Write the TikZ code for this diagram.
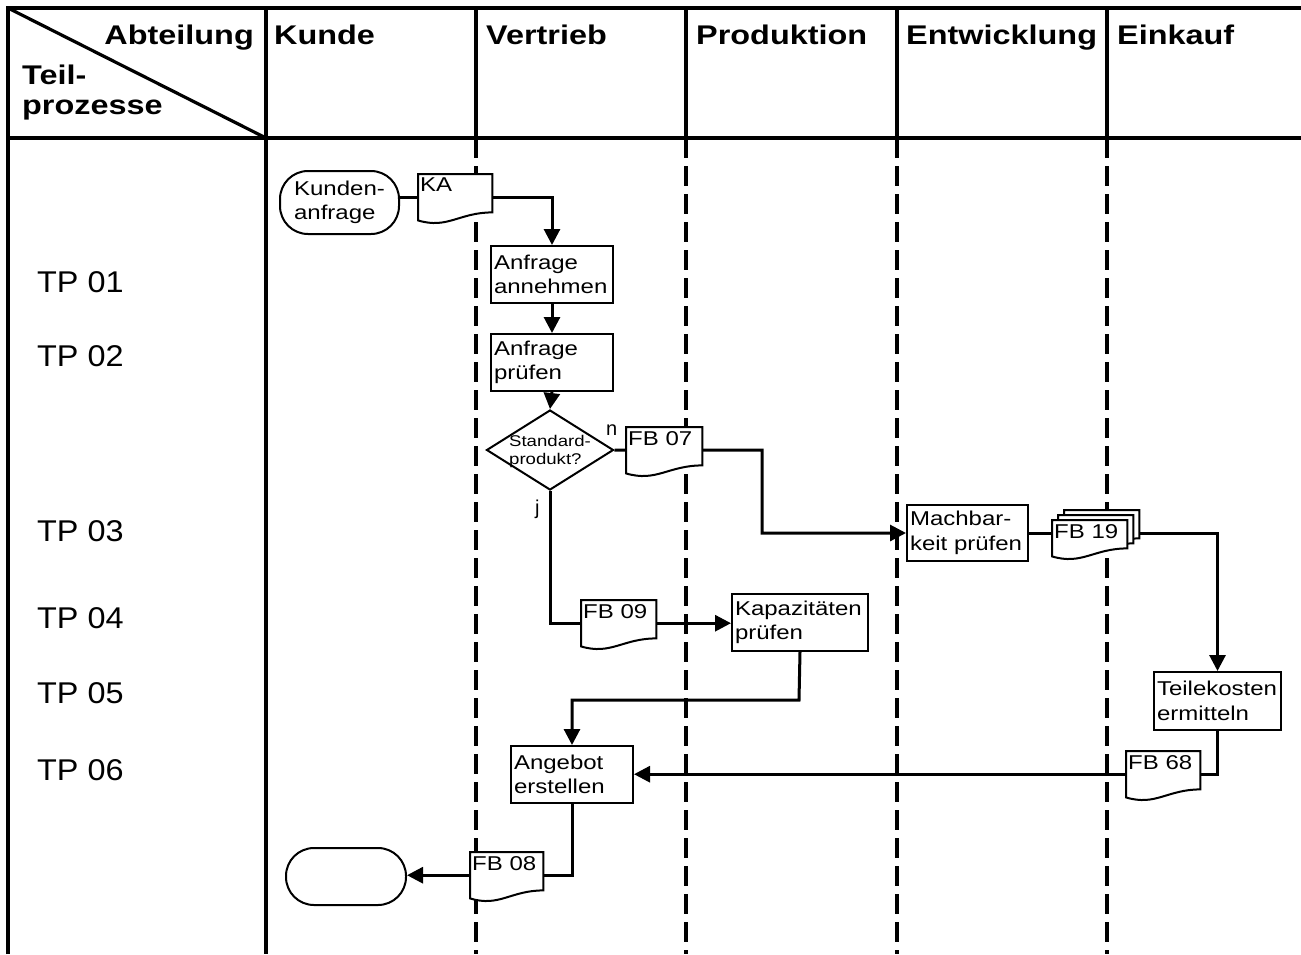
\documentclass[tikz,border=0pt]{standalone}
\usepackage{fontspec}
\setmainfont{Liberation Sans}
\newfontfamily\stretchfont[FakeStretch=1.2]{Liberation Sans}
\newfontfamily\tpfontfam[FakeStretch=1.08]{Liberation Sans}
\usetikzlibrary{shapes.geometric,arrows.meta,calc}
\newcommand\hdrfont{\stretchfont\bfseries\fontsize{27}{30}\selectfont}
\newcommand\boxfont{\stretchfont\fontsize{20}{24.5}\selectfont\hyphenpenalty=10000 }
\newcommand\smallfnt{\stretchfont\fontsize{15.5}{18}\selectfont}
\newcommand\tpfnt{\tpfontfam\fontsize{30}{36}\selectfont}
\tikzset{
  tbl/.style={line width=3.2pt},
  lane/.style={line width=3.4pt, dash pattern=on 20pt off 8pt},
  conn/.style={line width=3pt},
  arr/.style={conn, -{Triangle[length=16pt,width=16pt]}},
  shp/.style={line width=2pt},
  box/.style 2 args={shp, draw, rectangle, anchor=north west, inner xsep=3pt, inner ysep=0pt,
    align=left, font=\boxfont, text width=#1, minimum height=#2},
  term/.style={shp, draw, rectangle, rounded corners=28pt, anchor=north west, align=left,
    font=\boxfont, inner sep=0pt},
  docn/.style={rectangle, anchor=north west, inner sep=0pt, draw=none},
  doctxt/.style={anchor=north west, inner xsep=2pt, inner ysep=4pt, font=\boxfont},
  hdr/.style={font=\hdrfont, inner sep=0pt},
  tp/.style={font=\tpfnt, inner sep=0pt, anchor=base west},
  yn/.style={font=\fontsize{20}{24}\selectfont, inner sep=0pt, anchor=base west}
}
\newcommand\docshape[6]{%
  \node[docn, minimum width=#4pt, minimum height=#5pt] (#1) at (#2,#3) {};
  \draw[shp, fill=white] (#1.north west) -- (#1.north east) -- ([yshift=8pt]#1.south east)
     .. controls +({-0.45*#4},0) and +({0.4*#4},9) .. (#1.south west) -- cycle;
  \node[doctxt] (#1t) at (#1.north west) {#6};
}
\begin{document}
\begin{tikzpicture}[x=1pt,y=-1pt]
\useasboundingbox (0,0) rectangle (1301,954);
% table
\draw[tbl] (8,954) -- (8,8) -- (1301,8);
\draw[tbl] (8,138) -- (1301,138);
\draw[tbl] (8,8) -- (266,138);
\draw[tbl] (266,8) -- (266,954);
\foreach \x in {476,686,897,1107}{
  \draw[tbl] (\x,8) -- (\x,138);
  \draw[lane] (\x,138) -- (\x,954);
}
% headers
\node[hdr, anchor=base east] (habt) at (254,44) {Abteilung};
\node[hdr, anchor=base west] (hteil) at (22,84) {Teil-};
\node[hdr, anchor=base west] (hproz) at (22,114) {prozesse};
\node[hdr, anchor=base west] (hku) at (274,44) {Kunde};
\node[hdr, anchor=base west] (hve) at (486,44) {Vertrieb};
\node[hdr, anchor=base west] (hpr) at (696,44) {Produktion};
\node[hdr, anchor=base west] (hen) at (906,44) {Entwicklung};
\node[hdr, anchor=base west] (hei) at (1117,44) {Einkauf};
% TP labels
\node[tp] (tp1) at (37,292) {TP 01};
\node[tp] (tp2) at (37,366) {TP 02};
\node[tp] (tp3) at (37,541) {TP 03};
\node[tp] (tp4) at (37,628) {TP 04};
\node[tp] (tp5) at (37,703) {TP 05};
\node[tp] (tp6) at (37,780) {TP 06};
% shapes
\node[term, minimum width=119pt, minimum height=63pt] (Kst) at (279,170) {Kunden-\\anfrage};
\node[term, minimum width=120pt, minimum height=57pt] (End) at (285,847) {};
\docshape{KA}{418}{174}{74}{46}{KA}
\node[box={116pt}{57pt}] (A1) at (490,245) {Anfrage\\annehmen};
\node[box={116pt}{57pt}] (A2) at (490,333) {Anfrage\\prüfen};
\node[shp, draw, diamond, minimum width=127pt, minimum height=80pt, inner sep=0pt] (D) at (550,450) {};
\node[font=\smallfnt, align=left, inner sep=0pt] (Dt) at (550,451) {Standard-\\produkt?};
\node[yn] (nlab) at (606,435) {n};
\node[yn] (jlab) at (535,514) {j};
\docshape{FB07}{626}{427}{76}{46}{FB 07}
\docshape{FB09}{581}{600}{75}{46}{FB 09}
\node[box={130pt}{57pt}] (Kap) at (731,593) {Kapazitäten\\prüfen};
\node[box={115pt}{56pt}] (Mach) at (906,504) {Machbar-\\keit prüfen};
\docshape{FB19c}{1064}{510}{75}{36}{}
\docshape{FB19b}{1058}{515}{75}{36}{}
\docshape{FB19a}{1052}{520}{75}{36}{FB 19}
\node[box={121pt}{58pt}] (Teile) at (1153,671) {Teilekosten\\ermitteln};
\docshape{FB68}{1126}{751}{74}{46}{FB 68}
\node[box={116pt}{57pt}] (Ang) at (510,745) {Angebot\\erstellen};
\docshape{FB08}{470}{852}{73}{46}{FB 08}
% connectors
\coordinate (m1) at (762,450);
\coordinate (m2) at (799,700);
\draw[conn] (KA.west -| Kst.east) -- (KA.west);
\draw[arr] (KA.east) -| (A1.north);
\draw[arr] (A1.south) -- (A2.north);
\draw[arr] (A2.south) -- (D.north);
\draw[conn] (D.east) -- (FB07.west);
\draw[arr] (FB07.east) -- (m1) |- (Mach.west);
\draw[conn] (D.south) |- (FB09.west);
\draw[arr] (FB09.east) -- (FB09.east -| Kap.west);
\draw[arr] (Kap.south) -- (m2) -| (Ang.north);
\draw[conn] (Mach.east) -- (Mach.east -| FB19a.west);
\draw[arr] (Mach.east -| FB19c.east) -| (Teile.north);
\draw[conn] (Teile.south) |- (FB68.east);
\draw[arr] (FB68.west) -- (FB68.west -| Ang.east);
\draw[conn] (Ang.south) |- (FB08.east);
\draw[arr] (FB08.west) -- (FB08.west -| End.east);
\end{tikzpicture}
\end{document}
